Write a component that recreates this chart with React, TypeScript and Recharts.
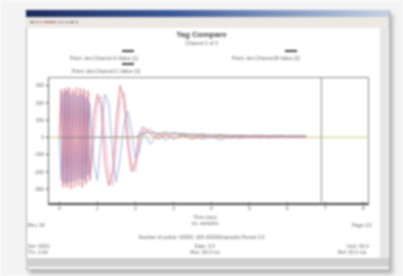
import { LineChart, Line, XAxis, YAxis, ReferenceLine } from "recharts";

const xs = [
  0, 0.05, 0.1, 0.15, 0.2, 0.25, 0.3, 0.35, 0.4, 0.45, 0.5, 0.55, 0.6, 0.65, 0.7, 0.75, 0.8, 0.9, 1.0, 1.1, 1.2,
  1.3, 1.4, 1.5, 1.6, 1.7, 1.8, 1.9, 2.0, 2.1, 2.2, 2.4, 2.6, 2.8, 3.0, 3.25, 3.5, 3.75, 4.0, 4.25, 4.5, 4.75,
  5.0, 5.25, 5.5, 5.75, 6.0, 6.25, 6.5,
];
const redSeries = [
  0, 280, -290, 285, -290, 290, -300, 280, -290, 290, -280, 285, -290, 280, -270, 270, -250, 120, 250, 180, -150,
  -280, -200, 100, 300, 220, -50, -200, -150, 20, 60, 20, -10, 15, -5, 10, -8, 5, 0, 6, -4, 3,
  0, 2, -2, 1, 0, 2, 0,
];
const blueSeries = [
  0, -250, 260, -265, 270, -260, 250, -255, 260, -250, 245, -240, 250, -245, 230, -220, 200, -150, -250, 0, 250,
  200, -100, -260, -120, 80, 150, 40, -120, -90, 30, -40, 25, -20, 30, 10, 20, -10, 5, -15, 8, -6,
  4, -3, 5, 2, -2, 3, 0,
];
const pinkSeries = [
  0, 260, -270, 275, -280, 270, -280, 265, -270, 275, -265, 270, -260, 265, -255, 250, -240, -60, 200, 240, 40,
  -200, -280, -60, 220, 260, 60, -150, -200, -40, 40, 50, 10, 20, -10, 15, 5, 12, 0, 8, 2, 6,
  -2, 4, 0, 3, 1, 2, 0,
];
const greySeries = [
  0, 0, 0, 0, 0, 0, 0, 0, 0, 0, 0, 0, 0, 0, 0, 0, 0, 0, 0, 0, 0,
  0, 0, 0, 0, 0, 0, 0, 0, 10, 25, 30, 20, 28, 18, 22, 14, 18, 12, 15, 10, 12,
  9, 11, 8, 10, 9, 8, 10,
];
const xTicks = [0, 1, 2, 3, 4, 5, 6, 7, 8];
const yTicks = [-300, -200, -100, 0, 100, 200, 300];
const cursorAt = 6.9;

const data = xs.map((x, i) => ({
  x,
  red: redSeries[i],
  blue: blueSeries[i],
  pink: pinkSeries[i],
  grey: greySeries[i],
}));

const small = { position: "absolute" as const, fontSize: 5, color: "#666", whiteSpace: "nowrap" as const };

export default function App() {
  return (
    <div
      style={{
        position: "absolute",
        left: 0,
        top: 0,
        width: 403,
        height: 276,
        background: "#f4f4f4",
        overflow: "hidden",
        fontFamily: "Arial, 'Liberation Sans', sans-serif",
        filter: "blur(1.1px)",
      }}
    >
      {/* window */}
      <div
        style={{
          position: "absolute",
          left: 26,
          top: 10,
          width: 362,
          height: 258,
          background: "#fff",
          border: "1px solid #aaa",
          boxShadow: "3px 4px 4px rgba(0,0,0,0.25)",
        }}
      />
      <div
        style={{
          position: "absolute",
          left: 26,
          top: 10,
          width: 363,
          height: 7,
          background: "linear-gradient(90deg, #1c2a5c 0%, #3b5a9a 40%, #c8d2e4 100%)",
        }}
      />
      <div style={{ position: "absolute", left: 26, top: 17, width: 363, height: 11, background: "#ece9e2" }} />
      <div style={{ ...small, left: 30, top: 19, color: "#444", fontSize: 6 }}>
        ▪▪ ▪ <span style={{ color: "#b04040" }}>▪ ▪▪▪▪▪▪</span> <span style={{ color: "#9070a0" }}>▪▪▪</span> ▪ ▪▪ ▪
      </div>
      <div style={{ position: "absolute", left: 380, top: 28, width: 8, height: 232, background: "#e6e6e6" }} />
      <div style={{ position: "absolute", left: 26, top: 258, width: 363, height: 9, background: "#cfcfcf" }} />

      {/* titles and legend */}
      <div style={{ ...small, left: 0, width: 403, top: 30, textAlign: "center", fontSize: 8, color: "#444", fontWeight: "bold" }}>
        Tag Compare
      </div>
      <div style={{ ...small, left: 0, width: 403, top: 40, textAlign: "center", fontSize: 5 }}>Channel 1 of 3</div>
      <div style={{ position: "absolute", left: 122, top: 50, width: 12, height: 2, background: "#444" }} />
      <div style={{ position: "absolute", left: 285, top: 50, width: 12, height: 2, background: "#444" }} />
      <div style={{ position: "absolute", left: 122, top: 63, width: 12, height: 2, background: "#444" }} />
      <div style={{ ...small, left: 70, top: 55 }}>Point: dev.Channel.A.Value (1)</div>
      <div style={{ ...small, left: 232, top: 55 }}>Point: dev.Channel.B.Value (2)</div>
      <div style={{ ...small, left: 72, top: 68 }}>Point: dev.Channel.C.Value (3)</div>

      <div style={{ position: "absolute", left: 0, top: 0 }}>
        <LineChart width={403} height={276} data={data} margin={{ top: 77, right: 36, bottom: 64, left: 30 }}>
          <XAxis
            dataKey="x"
            type="number"
            domain={[-0.3, 8.1]}
            ticks={xTicks}
            axisLine={false}
            tickLine={{ stroke: "#444" }}
            tickSize={2}
            tick={{ fontSize: 5, fill: "#666" }}
            height={10}
          />
          <YAxis
            type="number"
            domain={[-375, 350]}
            ticks={yTicks}
            axisLine={false}
            tickLine={{ stroke: "#444" }}
            tickSize={2}
            tick={{ fontSize: 5, fill: "#666" }}
            width={18}
          />
          <ReferenceLine y={0} stroke="#c8c878" strokeWidth={1} />
          <ReferenceLine x={cursorAt} stroke="#999" strokeWidth={1.2} />
          <Line dataKey="pink" stroke="#ecb4c8" strokeWidth={1} dot={false} isAnimationActive={false} />
          <Line dataKey="blue" stroke="#a0b0e0" strokeWidth={1} dot={false} isAnimationActive={false} />
          <Line dataKey="red" stroke="#d87888" strokeWidth={1} dot={false} isAnimationActive={false} />
          <Line dataKey="grey" stroke="#888" strokeWidth={1} dot={false} isAnimationActive={false} />
        </LineChart>
      </div>
      {/* plot frame */}
      <div
        style={{
          position: "absolute",
          left: 48,
          top: 77,
          width: 319,
          height: 125,
          borderLeft: "1px solid #666",
          borderTop: "1px solid #888",
          borderRight: "1px solid #888",
          borderBottom: "2px solid #444",
          pointerEvents: "none",
        }}
      />

      {/* footer */}
      <div style={{ ...small, left: 0, width: 410, top: 214, textAlign: "center" }}>Time (sec)</div>
      <div style={{ ...small, left: 0, width: 410, top: 220, textAlign: "center" }}>no. samples</div>
      <div style={{ ...small, left: 28, top: 222 }}>Rev. 00</div>
      <div style={{ ...small, left: 352, top: 222 }}>Page 1/1</div>
      <div style={{ ...small, left: 0, width: 403, top: 234, textAlign: "center" }}>
        Number of points: 00000, 000 (00000/sample) Period 0.0
      </div>
      <div style={{ ...small, left: 28, top: 243 }}>Ser: 0001</div>
      <div style={{ ...small, left: 28, top: 249 }}>Tm: 1:00</div>
      <div style={{ ...small, left: 0, width: 410, top: 243, textAlign: "center" }}>Date: 0.0</div>
      <div style={{ ...small, left: 0, width: 410, top: 249, textAlign: "center" }}>Rev: 00.0 ms</div>
      <div style={{ ...small, left: 347, top: 243 }}>Intvl: 00.0</div>
      <div style={{ ...small, left: 338, top: 249 }}>Ref: 00.0 ms</div>
    </div>
  );
}
